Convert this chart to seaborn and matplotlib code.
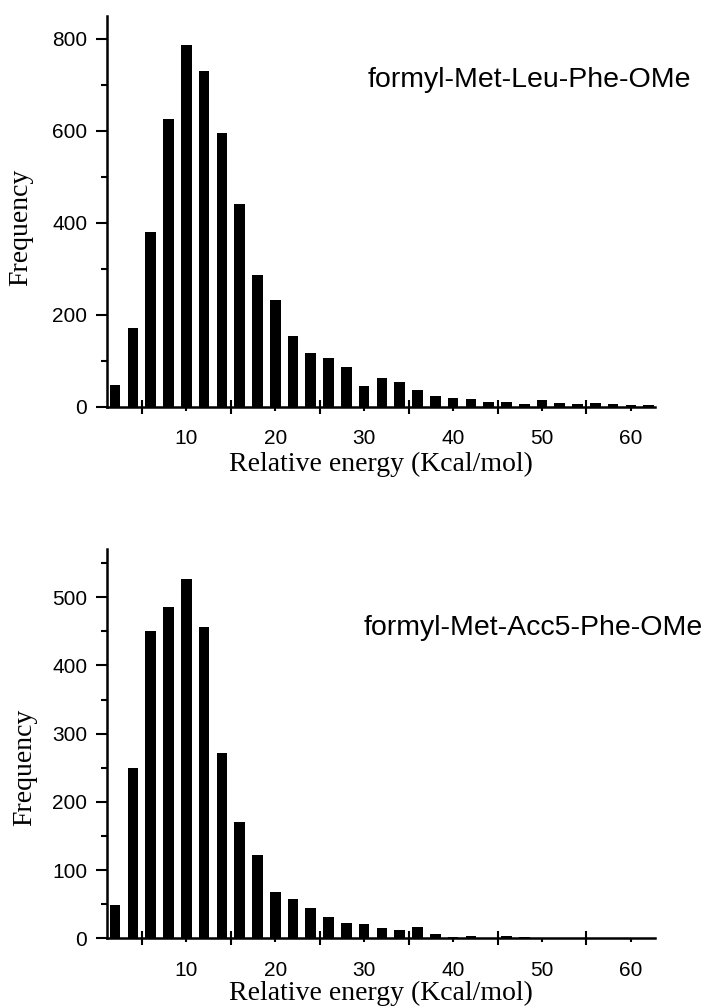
import matplotlib
matplotlib.use("Agg")
import matplotlib.pyplot as plt
import seaborn as sns
import numpy as np

# bin centres (Kcal/mol), 2 kcal/mol bins
energy = np.arange(2, 63, 2)

# formyl-Met-Leu-Phe-OMe
freq_leu = [47, 172, 380, 626, 787, 729, 595, 440, 287, 232, 154, 116, 105, 86,
            44, 62, 53, 36, 23, 20, 16, 11, 11, 7, 14, 9, 5, 9, 5, 3, 4]

# formyl-Met-Acc5-Phe-OMe
freq_acc = [49, 250, 451, 486, 527, 456, 272, 171, 123, 68, 58, 44, 31, 22,
            21, 15, 13, 17, 7, 2, 4, 0, 4, 1.5, 1, 0, 0, 0, 0, 0, 0]

names = ["formyl-Met-Leu-Phe-OMe", "formyl-Met-Acc5-Phe-OMe"]
yticks_major = [np.arange(0, 801, 200), np.arange(0, 501, 100)]
yticks_minor = [np.arange(100, 801, 200), np.arange(50, 551, 100)]
ylims = [850, 570]

sns.set_style("ticks")
plt.rcParams["font.family"] = ["Liberation Sans", "DejaVu Sans"]
for key in ["text.color", "axes.labelcolor", "xtick.color", "ytick.color",
            "axes.edgecolor"]:
    plt.rcParams[key] = "black"

fig = plt.figure(figsize=(7.05, 10.06), dpi=100)
ax_top = fig.add_axes([0.1513, 0.5957, 0.7777, 0.3887])
ax_bot = fig.add_axes([0.1513, 0.0671, 0.7777, 0.3869])

label_font = dict(family=["Liberation Serif", "DejaVu Serif"], size=20)

for ax, freq, i in [(ax_top, freq_leu, 0), (ax_bot, freq_acc, 1)]:
    sns.barplot(x=energy, y=freq, native_scale=True, width=0.6,
                color="black", edgecolor="black", linewidth=0,
                errorbar=None, ax=ax)
    ax.set_xlim(1.05, 62.7)
    ax.set_ylim(0, ylims[i])

    ax.set_xticks(np.arange(10, 61, 10))
    ax.set_xticks(np.arange(5, 56, 10), minor=True)
    ax.set_yticks(yticks_major[i])
    ax.set_yticks(yticks_minor[i], minor=True)

    ax.tick_params(axis="x", which="major", direction="out", length=3,
                   width=1.5, pad=13, labelsize=15)
    ax.tick_params(axis="x", which="minor", direction="inout", length=10,
                   width=1.5)
    ax.tick_params(axis="y", which="major", direction="out", length=8,
                   width=1.5, pad=6, labelsize=15)
    ax.tick_params(axis="y", which="minor", direction="out", length=4,
                   width=1.5)

    for s in ["top", "right"]:
        ax.spines[s].set_visible(False)
    for s in ["left", "bottom"]:
        ax.spines[s].set_linewidth(1.8)

    ax.set_xlabel("Relative energy (Kcal/mol)", fontdict=label_font,
                  labelpad=3 if i == 0 else 1)
    ax.set_ylabel("Frequency", fontdict=label_font)

ax_top.yaxis.set_label_coords(-0.134, 0.458)
ax_bot.yaxis.set_label_coords(-0.1275, 0.439)

fig.text(0.981, 0.9138, names[0], ha="right", va="baseline", fontsize=20.5)
fig.text(0.997, 0.3688, names[1], ha="right", va="baseline", fontsize=20.5)

fig.savefig("out.png", dpi=100)
